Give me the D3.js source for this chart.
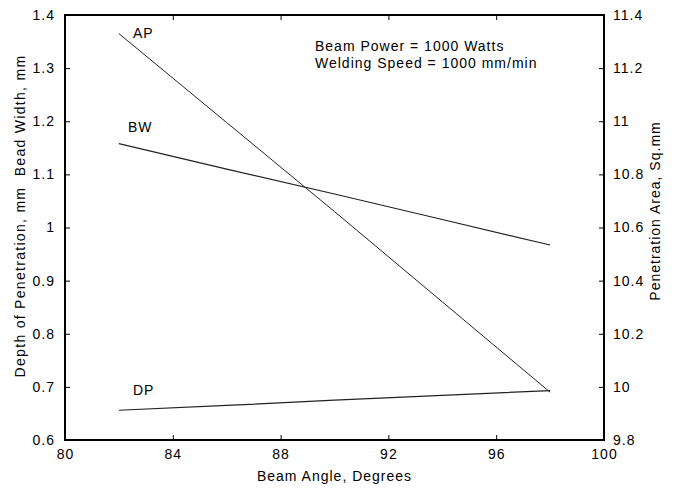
<!DOCTYPE html>
<html>
<head>
<meta charset="utf-8">
<script src="https://cdn.jsdelivr.net/npm/d3@7"></script>
<style>
  html, body { margin: 0; padding: 0; background: #fff; }
  svg text { font-family: "Liberation Sans", Arial, sans-serif; font-size: 14px; letter-spacing: 1px; fill: #000; }
</style>
</head>
<body>
<svg id="chart" width="676" height="490"></svg>
<script>
// Beam angle (degrees) at which each response was evaluated
const beamAngle = [82, 86, 90, 94, 98];
// Left axis series (mm)
const beadWidth = [1.158, 1.110, 1.063, 1.015, 0.967];
const depthPen  = [0.656, 0.665, 0.675, 0.684, 0.693];
// Right axis series (sq. mm)
const penArea   = [11.33, 10.995, 10.66, 10.32, 9.98];

const xTicks      = [80, 84, 88, 92, 96, 100];
const yLeftTicks  = [0.6, 0.7, 0.8, 0.9, 1.0, 1.1, 1.2, 1.3, 1.4];
const yRightTicks = [9.8, 10.0, 10.2, 10.4, 10.6, 10.8, 11.0, 11.2, 11.4];

const svg = d3.select("#chart");
const plotL = 65, plotR = 604, plotT = 15, plotB = 440;

const x  = d3.scaleLinear().domain([80, 100]).range([plotL, plotR]);
const yL = d3.scaleLinear().domain([0.6, 1.4]).range([plotB, plotT]);
const yR = d3.scaleLinear().domain([9.8, 11.4]).range([plotB, plotT]);

const tickLen = 5;
const fmt = d => String(+d.toFixed(1));

// Axes with inward ticks
const gBottom = svg.append("g").attr("transform", `translate(0,${plotB})`)
  .call(d3.axisBottom(x).tickValues(xTicks).tickSizeInner(-tickLen).tickSizeOuter(0).tickPadding(9).tickFormat(d3.format("d")));
const gTop = svg.append("g").attr("transform", `translate(0,${plotT})`)
  .call(d3.axisTop(x).tickValues(xTicks).tickSizeInner(-tickLen).tickSizeOuter(0).tickFormat(""));
const gLeft = svg.append("g").attr("transform", `translate(${plotL},0)`)
  .call(d3.axisLeft(yL).tickValues(yLeftTicks).tickSizeInner(-tickLen).tickSizeOuter(0).tickPadding(10).tickFormat(fmt));
const gRight = svg.append("g").attr("transform", `translate(${plotR},0)`)
  .call(d3.axisRight(yR).tickValues(yRightTicks).tickSizeInner(-tickLen).tickSizeOuter(0).tickPadding(9).tickFormat(fmt));

[gBottom, gTop, gLeft, gRight].forEach(g => {
  g.attr("font-family", null).attr("font-size", null);
  g.select(".domain").remove();
  g.selectAll(".tick line").attr("stroke", "#000").attr("stroke-width", 1);
  g.selectAll("text").attr("fill", "#000");
});

// Frame
svg.append("rect")
  .attr("x", plotL).attr("y", plotT)
  .attr("width", plotR - plotL).attr("height", plotB - plotT)
  .attr("fill", "none").attr("stroke", "#000").attr("stroke-width", 2);

// Series lines
const lineL = d3.line().x((d, i) => x(beamAngle[i])).y(d => yL(d));
const lineR = d3.line().x((d, i) => x(beamAngle[i])).y(d => yR(d));

svg.append("path").datum(penArea).attr("d", lineR)
  .attr("fill", "none").attr("stroke", "#222").attr("stroke-width", 1);
svg.append("path").datum(beadWidth).attr("d", lineL)
  .attr("fill", "none").attr("stroke", "#222").attr("stroke-width", 1.2);
svg.append("path").datum(depthPen).attr("d", lineL)
  .attr("fill", "none").attr("stroke", "#222").attr("stroke-width", 1.2);

// Series labels
svg.append("text").attr("x", 133).attr("y", 38).text("AP");
svg.append("text").attr("x", 128).attr("y", 132).text("BW");
svg.append("text").attr("x", 133).attr("y", 395).text("DP");

// Operating conditions
svg.append("text").attr("x", 315).attr("y", 51).text("Beam Power = 1000 Watts");
svg.append("text").attr("x", 315).attr("y", 68).text("Welding Speed = 1000 mm/min");

// Axis titles
svg.append("text").attr("x", (plotL + plotR) / 2).attr("y", 481)
  .attr("text-anchor", "middle").text("Beam Angle, Degrees");
svg.append("text").attr("transform", "translate(25,216) rotate(-90)")
  .attr("text-anchor", "middle").style("letter-spacing", "1.3px")
  .text("Depth of Penetration, mm\u00a0\u00a0Bead Width, mm");
svg.append("text").attr("transform", "translate(660,211) rotate(-90)")
  .attr("text-anchor", "middle").text("Penetration Area, Sq.mm");
</script>
</body>
</html>
